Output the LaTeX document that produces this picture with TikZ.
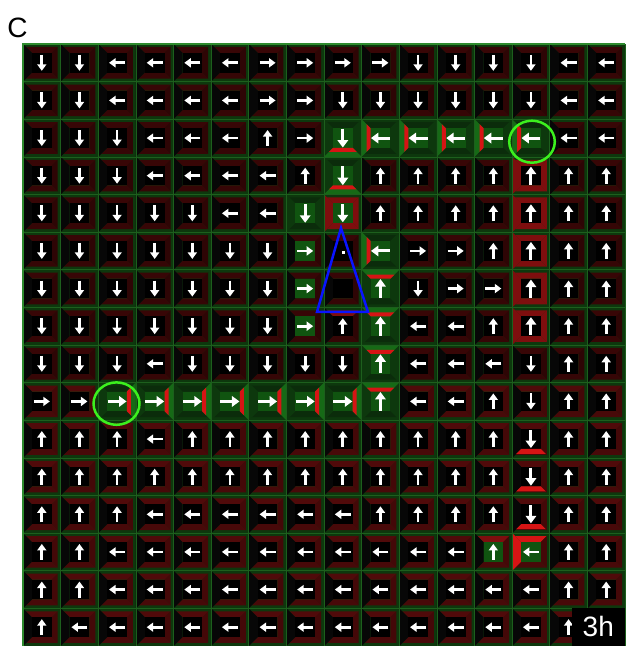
\documentclass[tikz,border=0pt]{standalone}
\usepackage{fontspec}
\setmainfont{Liberation Sans}
\usetikzlibrary{arrows.meta}
\definecolor{bgg}{HTML}{0D380D}
\definecolor{gridg}{HTML}{1D5F1D}
\definecolor{edgeg}{HTML}{2E8B2E}
\definecolor{frTa}{HTML}{380606}
\definecolor{frRa}{HTML}{2E0505}
\definecolor{frBa}{HTML}{360606}
\definecolor{frTb}{HTML}{500A0A}
\definecolor{frRb}{HTML}{440808}
\definecolor{frBb}{HTML}{480909}
\definecolor{frL}{HTML}{070707}
\definecolor{ctrg}{HTML}{105410}
\definecolor{dkg}{HTML}{0B2C0B}
\definecolor{sideg}{HTML}{166A16}
\definecolor{hired}{HTML}{D61414}
\definecolor{midred}{HTML}{7E0E0E}
\definecolor{limeg}{HTML}{3CF01E}
\definecolor{tblue}{HTML}{0A14FF}
\tikzset{
  arrS/.style={white, line width=2.8pt, -{Triangle[length=6.5pt,width=9pt]}},
  arrL/.style={white, line width=3.1pt, -{Triangle[length=7.5pt,width=10.5pt]}},
  gridln/.style={gridg, line width=0.6pt},
  ring/.style={limeg, line width=2.5pt},
  labeltext/.style={inner sep=0pt, font=\fontsize{28}{30}\selectfont}
}
\newcommand\cellgeom[2]{%
  \pgfmathsetmacro\cxl{23+#1*37.625}%
  \pgfmathsetmacro\cxr{\cxl+37.625}%
  \pgfmathsetmacro\cyt{602-#2*37.625}%
  \pgfmathsetmacro\cyb{\cyt-37.625}%
  \pgfmathsetmacro\acx{\cxl+18.8125}%
  \pgfmathsetmacro\acy{\cyb+18.8125}%
}
\newcommand\trapT[3]{\fill[#3] (\cxl+#1,\cyt-#1) -- (\cxr-#1,\cyt-#1) -- (\cxr-#2,\cyt-#2) -- (\cxl+#2,\cyt-#2) -- cycle;}
\newcommand\trapB[3]{\fill[#3] (\cxl+#1,\cyb+#1) -- (\cxr-#1,\cyb+#1) -- (\cxr-#2,\cyb+#2) -- (\cxl+#2,\cyb+#2) -- cycle;}
\newcommand\trapL[3]{\fill[#3] (\cxl+#1,\cyb+#1) -- (\cxl+#1,\cyt-#1) -- (\cxl+#2,\cyt-#2) -- (\cxl+#2,\cyb+#2) -- cycle;}
\newcommand\trapR[3]{\fill[#3] (\cxr-#1,\cyb+#1) -- (\cxr-#1,\cyt-#1) -- (\cxr-#2,\cyt-#2) -- (\cxr-#2,\cyb+#2) -- cycle;}
\newcommand\trapN[3]{}
\newcommand\paintcell[7]{%
  \cellgeom{#1}{#2}%
  \fill[bgg] (\cxl,\cyb) rectangle (\cxr,\cyt);%
  \trapT{3}{9}{#3}\trapR{3}{9}{#4}\trapB{3}{9}{#5}\trapL{0}{9}{#6}%
  \fill[#7] (\cxl+9,\cyb+9) rectangle (\cxr-9,\cyt-9);%
}
\newcommand\adirD[2]{\draw[#2] (\acx,\acy+#1) -- (\acx,\acy-#1);}
\newcommand\adirU[2]{\draw[#2] (\acx,\acy-#1) -- (\acx,\acy+#1);}
\newcommand\adirL[2]{\draw[#2] (\acx+#1,\acy) -- (\acx-#1,\acy);}
\newcommand\adirR[2]{\draw[#2] (\acx-#1,\acy) -- (\acx+#1,\acy);}
\newcommand\adirN[2]{}
\newcommand\putarrow[5]{\cellgeom{#2}{#3}\csname adir#1\endcsname{#4}{#5}}
% green cell: c r dir redside
\newcommand\gcell[4]{%
  \paintcell{#1}{#2}{dkg}{bgg}{dkg}{bgg}{ctrg}%
  \csname trap#4\endcsname{0}{9}{sideg}%
  \csname trap#4\endcsname{5}{9}{hired}%
  \putarrow{#3}{#1}{#2}{9.5}{arrL}}
\begin{document}
\begin{tikzpicture}[x=1pt,y=1pt]
\useasboundingbox (0,0) rectangle (625,646);
\fill[white] (0,0) rectangle (625,646);
% base grid
\foreach \rowlist [count=\rowi from 0] in {
 {D,D,L,L,L,L,R,R,R,R,D,D,D,D,L,L},
 {D,D,L,L,L,L,R,R,D,D,D,D,D,D,L,L},
 {D,D,D,L,L,L,U,R,D,L,L,L,L,L,L,L},
 {D,D,D,L,L,L,L,U,D,U,U,U,U,U,U,U},
 {D,D,D,D,D,L,L,D,D,U,U,U,U,U,U,U},
 {D,D,D,D,D,D,D,R,N,L,R,R,U,U,U,U},
 {D,D,D,D,D,D,D,R,N,U,D,R,R,U,U,U},
 {D,D,D,D,D,D,D,R,U,U,L,L,U,U,U,U},
 {D,D,D,L,D,D,D,D,D,U,L,L,L,D,U,U},
 {R,R,R,R,R,R,R,R,R,U,L,L,U,D,U,U},
 {U,U,U,L,U,U,U,U,U,U,U,U,U,D,U,U},
 {U,U,U,U,U,U,U,U,U,U,U,U,U,D,U,U},
 {U,U,U,L,L,L,L,L,L,U,U,U,U,D,U,U},
 {U,U,L,L,L,L,L,L,L,L,L,L,U,L,U,U},
 {U,U,L,L,L,L,L,L,L,L,L,L,L,L,U,U},
 {U,L,L,L,L,L,L,L,L,L,L,L,L,L,U,U}}{
  \ifnum\rowi<9 \def\sfx{a}\else\def\sfx{b}\fi
  \foreach \dirn [count=\coli from 0] in \rowlist {
    \paintcell{\coli}{\rowi}{frT\sfx}{frR\sfx}{frB\sfx}{frL}{black}
    \putarrow{\dirn}{\coli}{\rowi}{8}{arrS}
  }
}
% highlighted green cells along the path
\gcell{8}{2}{D}{B}
\gcell{8}{3}{D}{B}
\foreach \cc in {9,...,13} {\gcell{\cc}{2}{L}{L}}
\gcell{9}{5}{L}{L}
\foreach \rr in {6,...,9} {\gcell{9}{\rr}{U}{T}}
\foreach \cc in {2,...,8} {\gcell{\cc}{9}{R}{R}}
\gcell{7}{4}{D}{N}
\paintcell{8}{4}{midred}{midred}{midred}{midred}{ctrg}
\putarrow{D}{8}{4}{9}{arrL}
\foreach \rr in {5,6,7} {
  \paintcell{7}{\rr}{frTa}{frRa}{frBa}{frL}{ctrg}
  \putarrow{R}{7}{\rr}{8}{arrS}
}
\paintcell{8}{7}{midred}{frRa}{frBa}{frL}{black}
\putarrow{U}{8}{7}{8}{arrS}
% column 14 features
\foreach \rr in {3,...,7} {
  \paintcell{13}{\rr}{midred}{midred}{midred}{midred}{black}
  \putarrow{U}{13}{\rr}{9}{arrL}
}
\foreach \rr in {10,11,12} {
  \paintcell{13}{\rr}{frTb}{frRb}{frBb}{frL}{black}
  \trapB{4}{9}{hired}
  \putarrow{D}{13}{\rr}{9}{arrL}
}
\paintcell{12}{13}{midred}{frRb}{frBb}{frL}{ctrg}
\putarrow{U}{12}{13}{8}{arrS}
\paintcell{13}{13}{hired}{frRb}{frBb}{hired}{ctrg}
\putarrow{L}{13}{13}{8}{arrS}
% grid lines
\foreach \i in {0,...,16} {
  \draw[gridln] ({23+\i*37.625},0) -- ({23+\i*37.625},602);
  \draw[gridln] (23,{602-\i*37.625}) -- (625,{602-\i*37.625});
}
\draw[edgeg, line width=2pt] (23,0) -- (23,602) -- (625,602);
% white dot in the empty cell
\fill[white] (341.8,391.8) rectangle (344.8,394.8);
% blue triangle
\draw[tblue, line width=2.5pt, line join=miter] (341,418) -- (317,334) -- (368,334) -- cycle;
% green rings
\draw[ring] (532,504.3) ellipse [x radius=22.8, y radius=21];
\draw[ring] (116.5,242.4) ellipse [x radius=23, y radius=21.2];
% labels
\node[labeltext, anchor=center] (lblC) at (17.5,618) {C};
\node[fill=black, text=white, inner sep=0pt, minimum width=53pt, minimum height=38pt,
      anchor=south east, font=\fontsize{28}{30}\selectfont] (lbl3h) at (625,0) {3h};
\end{tikzpicture}
\end{document}
